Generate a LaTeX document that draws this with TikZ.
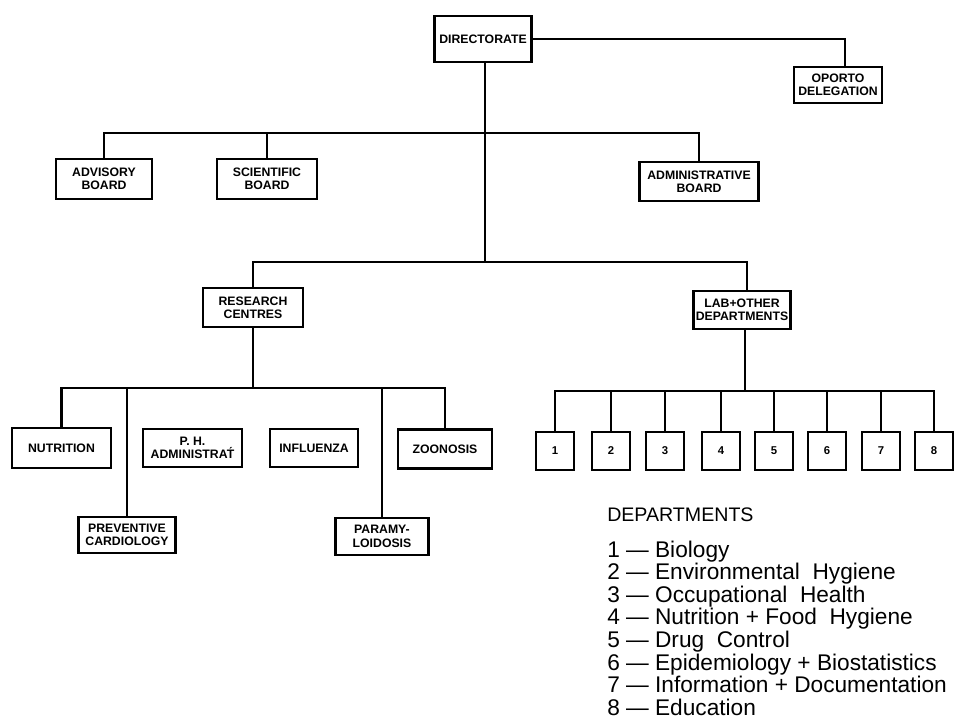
\documentclass[tikz,border=0pt]{standalone}
\usepackage{fontspec}
\setmainfont{Liberation Sans}
\usetikzlibrary{calc}
\begin{document}
\begin{tikzpicture}[x=0.75pt,y=-0.75pt,
  box/.style={draw,line width=2.1pt,inner sep=0pt,align=center,font=\bfseries\fontsize{9.2}{10}\selectfont},
  sz/.style 2 args={minimum width=#1*0.75pt,minimum height=#2*0.75pt},
  conn/.style={line width=2pt},
  numbox/.style={box,sz={38}{38},font=\bfseries\fontsize{8.5}{10}\selectfont},
  leg/.style={anchor=base west,inner sep=0pt,font=\fontsize{17}{20}\selectfont},
  head/.style={anchor=base west,inner sep=0pt,font=\fontsize{14.7}{18}\selectfont}]
\useasboundingbox (0,0) rectangle (954,720);
% top level
\node[box,sz={97}{46}] (dir) at (483,39) {DIRECTORATE};
\node[box,sz={88}{36}] (opo) at (838,85) {OPORTO\\DELEGATION};
% boards
\node[box,sz={96}{40}] (adv) at (104,179) {ADVISORY\\BOARD};
\node[box,sz={100}{40}] (sci) at (267,179) {SCIENTIFIC\\BOARD};
\node[box,sz={119}{39}] (adm) at (699,181.5) {ADMINISTRATIVE\\BOARD};
% second level
\node[box,sz={100}{39}] (rc) at (253,307.5) {RESEARCH\\CENTRES};
\node[box,sz={97}{38}] (lab) at (742,310) {LAB+OTHER\\DEPARTMENTS};
% research centres
\node[box,sz={99}{40}] (nut) at (61.5,448) {NUTRITION};
\node[box,sz={99}{38}] (ph) at (192.5,448) {P. H.\\ADMINISTRA\'{T}};
\node[box,sz={88}{38}] (inf) at (314,448) {INFLUENZA};
\node[box,sz={94}{39}] (zoo) at (445,449) {ZOONOSIS};
\node[box,sz={97}{36}] (prev) at (127,535) {PREVENTIVE\\CARDIOLOGY};
\node[box,sz={93}{37}] (para) at (382,536.5) {PARAMY-\\LOIDOSIS};
% departments
\foreach \i/\x in {1/555,2/611,3/665,4/721,5/774,6/827,7/881,8/934}
  \node[numbox] (d\i) at (\x,451) {\i};
% junctions
\coordinate (jb) at (485,133);
\coordinate (j0) at (485,262);
\coordinate (jl) at (747,262);
\coordinate (jr) at (253,388);
\coordinate (jd) at (745,391);
% connectors
\draw[conn] (dir.south -| j0) -- (j0);
\draw[conn] (dir.east) -| ($(opo.north)+(7,0)$);
\draw[conn] (adv.north) |- (adm.north |- jb) -- (adm.north);
\draw[conn] (sci.north) -- (sci.north |- jb);
\draw[conn] (rc.north) |- (jl) -- (jl |- lab.north);
\draw[conn] (rc.south) -- (jr);
\draw[conn] (nut.north) |- (zoo.north |- jr) -- (zoo.north);
\draw[conn] (prev.north) -- (prev.north |- jr);
\draw[conn] (para.north) -- (para.north |- jr);
\draw[conn] (lab.south -| jd) -- (jd);
\draw[conn] (d1.north) |- (d8.north |- jd) -- (d8.north);
\foreach \i in {2,...,7}
  \draw[conn] (d\i.north) -- (d\i.north |- jd);
% legend
\node[head] (deph) at (607,521) {DEPARTMENTS};
\foreach \i/\t in {1/Biology,2/Environmental\ \ Hygiene,3/Occupational\ \ Health,4/Nutrition + Food\ \ Hygiene,5/Drug\ \ Control,6/Epidemiology + Biostatistics,7/Information + Documentation,8/Education}
  \node[leg] (leg\i) at (607,{557+22.6*(\i-1)}) {\i\ — \t};
\end{tikzpicture}
\end{document}
